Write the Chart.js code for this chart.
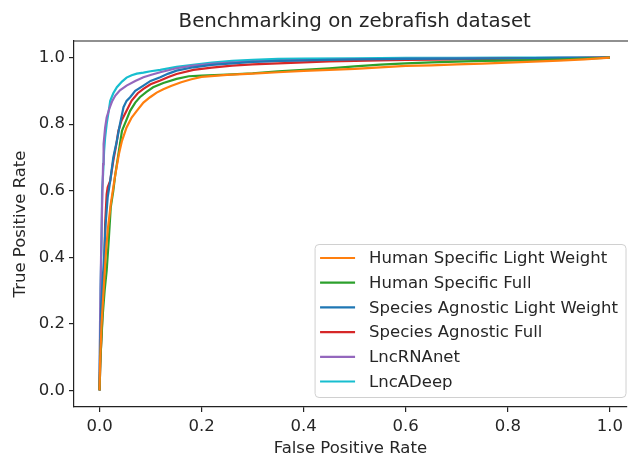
<!DOCTYPE html>
<html>
<head>
<meta charset="utf-8">
<script src="https://cdn.jsdelivr.net/npm/chart.js@4.4.0/dist/chart.umd.min.js"></script>
<style>
    html, body { margin: 0; padding: 0; background: #fff; overflow: hidden; }
</style>
</head>
<body>
<canvas id="roc" width="628" height="459"></canvas>
<script>
const titleText = 'Benchmarking on zebrafish dataset';
const xTicks = [0, 0.2, 0.4, 0.6, 0.8, 1.0];
const yTicks = [0, 0.2, 0.4, 0.6, 0.8, 1.0];

const labels = [
    'Human Specific Light Weight',
    'Human Specific Full',
    'Species Agnostic Light Weight',
    'Species Agnostic Full',
    'LncRNAnet',
    'LncADeep'
];
const colors = ['#ff7f0e', '#2ca02c', '#1f77b4', '#d62728', '#9467bd', '#17becf'];

// Human Specific Light Weight
const fprHsLight = [0, 0.001, 0.004, 0.008, 0.012, 0.016, 0.022, 0.030, 0.038, 0.044, 0.053, 0.063, 0.073, 0.086, 0.099, 0.112, 0.125, 0.14, 0.16, 0.18, 0.2, 0.25, 0.3, 0.35, 0.4, 0.45, 0.5, 0.55, 0.6, 0.65, 0.7, 0.75, 0.8, 0.85, 0.9, 0.95, 1.0];
const tprHsLight = [0, 0.08, 0.2, 0.3, 0.4, 0.48, 0.56, 0.64, 0.71, 0.75, 0.79, 0.82, 0.84, 0.865, 0.881, 0.895, 0.905, 0.915, 0.926, 0.935, 0.942, 0.948, 0.952, 0.956, 0.96, 0.963, 0.966, 0.971, 0.975, 0.977, 0.98, 0.982, 0.985, 0.988, 0.991, 0.995, 1.0];

// Human Specific Full
const fprHsFull = [0, 0.002, 0.006, 0.010, 0.014, 0.018, 0.022, 0.027, 0.031, 0.037, 0.044, 0.052, 0.06, 0.07, 0.079, 0.092, 0.105, 0.125, 0.151, 0.175, 0.2, 0.25, 0.3, 0.35, 0.4, 0.45, 0.5, 0.55, 0.6, 0.65, 0.7, 0.75, 0.8, 0.9, 1.0];
const tprHsFull = [0, 0.1, 0.22, 0.3, 0.36, 0.45, 0.55, 0.6, 0.65, 0.71, 0.78, 0.81, 0.84, 0.865, 0.881, 0.897, 0.911, 0.924, 0.936, 0.944, 0.946, 0.949, 0.953, 0.959, 0.963, 0.968, 0.974, 0.979, 0.983, 0.986, 0.988, 0.99, 0.991, 0.994, 1.0];

// Species Agnostic Light Weight
const fprSaLight = [0, 0.001, 0.003, 0.006, 0.009, 0.012, 0.016, 0.021, 0.027, 0.034, 0.04, 0.047, 0.053, 0.06, 0.07, 0.086, 0.1, 0.119, 0.135, 0.151, 0.184, 0.22, 0.26, 0.3, 0.35, 0.4, 0.45, 0.5, 0.6, 0.7, 0.8, 0.9, 1.0];
const tprSaLight = [0, 0.1, 0.25, 0.33, 0.4, 0.5, 0.58, 0.63, 0.7, 0.75, 0.8, 0.851, 0.87, 0.881, 0.9, 0.916, 0.93, 0.941, 0.952, 0.961, 0.971, 0.978, 0.983, 0.987, 0.99, 0.992, 0.993, 0.995, 0.996, 0.997, 0.998, 0.999, 1.0];

// Species Agnostic Full
const fprSaFull = [0, 0.002, 0.005, 0.007, 0.009, 0.011, 0.014, 0.016, 0.021, 0.027, 0.033, 0.037, 0.043, 0.05, 0.063, 0.075, 0.086, 0.1, 0.119, 0.135, 0.151, 0.184, 0.22, 0.26, 0.3, 0.35, 0.4, 0.45, 0.5, 0.6, 0.7, 0.8, 0.9, 1.0];
const tprSaFull = [0, 0.1, 0.2, 0.28, 0.36, 0.5, 0.59, 0.61, 0.63, 0.69, 0.74, 0.78, 0.81, 0.831, 0.871, 0.893, 0.906, 0.92, 0.931, 0.942, 0.951, 0.963, 0.97, 0.976, 0.98, 0.983, 0.986, 0.989, 0.99, 0.993, 0.995, 0.997, 0.998, 1.0];

// LncRNAnet
const fprLncRNAnet = [0, 0.001, 0.003, 0.005, 0.007, 0.008, 0.011, 0.014, 0.02, 0.025, 0.031, 0.04, 0.053, 0.07, 0.086, 0.1, 0.119, 0.151, 0.18, 0.22, 0.26, 0.3, 0.35, 0.4, 0.5, 0.6, 0.7, 0.8, 0.9, 1.0];
const tprLncRNAnet = [0, 0.2, 0.4, 0.55, 0.68, 0.74, 0.79, 0.82, 0.85, 0.87, 0.886, 0.902, 0.916, 0.93, 0.941, 0.948, 0.956, 0.968, 0.975, 0.981, 0.985, 0.988, 0.99, 0.992, 0.994, 0.996, 0.997, 0.998, 0.999, 1.0];

// LncADeep
const fprLncADeep = [0, 0.001, 0.002, 0.004, 0.005, 0.007, 0.009, 0.011, 0.014, 0.018, 0.021, 0.027, 0.034, 0.044, 0.053, 0.063, 0.073, 0.086, 0.1, 0.119, 0.151, 0.183, 0.22, 0.26, 0.3, 0.35, 0.4, 0.5, 0.6, 0.7, 0.8, 0.9, 1.0];
const tprLncADeep = [0, 0.15, 0.3, 0.45, 0.6, 0.65, 0.72, 0.76, 0.8, 0.84, 0.87, 0.893, 0.911, 0.928, 0.94, 0.947, 0.952, 0.955, 0.959, 0.963, 0.972, 0.978, 0.985, 0.99, 0.993, 0.996, 0.997, 0.998, 0.999, 0.999, 1.0, 1.0, 1.0];

const fprs = [fprHsLight, fprHsFull, fprSaLight, fprSaFull, fprLncRNAnet, fprLncADeep];
const tprs = [tprHsLight, tprHsFull, tprSaLight, tprSaFull, tprLncRNAnet, tprLncADeep];

const FONT = "'DejaVu Sans', sans-serif";
const TEXT = '#262626';
const FS = 16.5;

const datasets = labels.map((label, i) => ({
    label: label,
    data: fprs[i].map((x, j) => ({ x: x, y: tprs[i][j] })),
    borderColor: colors[i],
    backgroundColor: colors[i],
    borderWidth: 2.2,
    pointRadius: 0,
    showLine: true,
    tension: 0
}));

// title, top spine and the in-axes legend, matplotlib style
const decor = {
    id: 'decor',
    afterDraw(chart) {
        const ctx = chart.ctx;
        const a = chart.chartArea;
        ctx.save();

        ctx.strokeStyle = '#222';
        ctx.lineWidth = 1.2;
        ctx.beginPath();
        ctx.moveTo(a.left, a.top);
        ctx.lineTo(a.right + 2, a.top);
        ctx.stroke();

        // the original figure is cropped on the right, the title sits over x = 0.5
        const cx = chart.scales.x.getPixelForValue(0.5);
        ctx.fillStyle = TEXT;
        ctx.font = (FS * 1.2) + 'px ' + FONT;
        ctx.textAlign = 'center';
        ctx.textBaseline = 'middle';
        ctx.fillText(titleText, cx, 22);

        ctx.font = FS + 'px ' + FONT;
        let maxW = 0;
        labels.forEach(l => { maxW = Math.max(maxW, ctx.measureText(l).width); });
        const right = 626, bottom = 397.5;
        const left = right - (54 + maxW + 8);
        const top = bottom - 153;
        ctx.fillStyle = 'rgba(255,255,255,0.8)';
        ctx.strokeStyle = '#d0d0d0';
        ctx.lineWidth = 1;
        ctx.beginPath();
        ctx.roundRect(left, top, right - left, bottom - top, 4);
        ctx.fill();
        ctx.stroke();

        ctx.textAlign = 'left';
        labels.forEach((l, i) => {
            const y = top + 13.5 + i * 24.7;
            ctx.strokeStyle = colors[i];
            ctx.lineWidth = 2.2;
            ctx.beginPath();
            ctx.moveTo(left + 5, y);
            ctx.lineTo(left + 40, y);
            ctx.stroke();
            ctx.fillStyle = TEXT;
            ctx.fillText(l, left + 54, y + 1);
        });
        ctx.restore();
    }
};

new Chart(document.getElementById('roc'), {
    type: 'scatter',
    data: { datasets: datasets },
    options: {
        responsive: false,
        animation: false,
        devicePixelRatio: 1,
        layout: { padding: { top: 41, right: 0, left: 0, bottom: 0 } },
        plugins: {
            legend: { display: false },
            title: { display: false },
            tooltip: { enabled: false }
        },
        scales: {
            x: {
                type: 'linear',
                min: -0.05,
                max: 1.033,  // axes run to 1.05 but the picture is cut at the right edge
                afterBuildTicks: s => { s.ticks = xTicks.map(v => ({ value: v })); },
                afterFit: s => { s.height = 52; },
                grid: { drawOnChartArea: false, drawTicks: true, tickLength: 5, color: '#222', lineWidth: 1.2 },
                border: { display: true, color: '#222', width: 1.2 },
                ticks: {
                    color: TEXT,
                    padding: 5,
                    maxRotation: 0,
                    font: { family: FONT, size: FS },
                    callback: v => v.toFixed(1)
                },
                title: {
                    display: true,
                    text: 'False Positive Rate',
                    color: TEXT,
                    font: { family: FONT, size: FS },
                    padding: { top: 0, bottom: 0 }
                }
            },
            y: {
                type: 'linear',
                min: -0.05,
                max: 1.05,
                afterBuildTicks: s => { s.ticks = yTicks.map(v => ({ value: v })); },
                afterFit: s => { s.width = 74; },
                grid: { drawOnChartArea: false, drawTicks: true, tickLength: 5, color: '#222', lineWidth: 1.2 },
                border: { display: true, color: '#222', width: 1.2 },
                ticks: {
                    color: TEXT,
                    padding: 4,
                    font: { family: FONT, size: FS },
                    callback: v => v.toFixed(1)
                },
                title: {
                    display: true,
                    text: 'True Positive Rate',
                    color: TEXT,
                    font: { family: FONT, size: FS },
                    padding: { top: 11, bottom: 0 }
                }
            }
        }
    },
    plugins: [decor]
});
</script>
</body>
</html>
